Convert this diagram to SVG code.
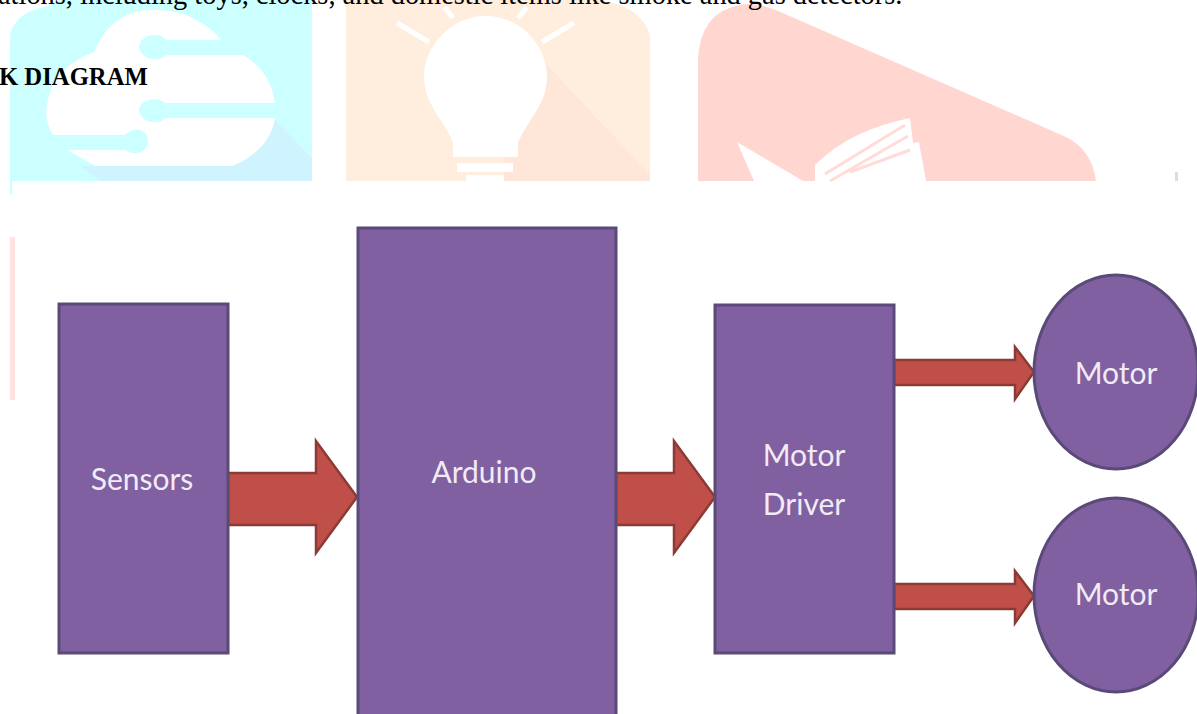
<svg xmlns="http://www.w3.org/2000/svg" width="1197" height="714" viewBox="0 0 1197 714">
<style>
.body{font-family:"Liberation Serif","Times New Roman",serif;fill:#000}
.box{fill:#8060a0;stroke:#5a4a78;stroke-width:3}
.arrow{fill:#bf4f48;stroke:#8c3a36;stroke-width:2.5}
.lbl{font-family:Lato,"Open Sans",sans-serif;font-size:30px;fill:#f1ebf6;text-anchor:middle}
.wh{fill:#fff}
</style>
<rect width="1197" height="714" fill="#fff"/>
<g id="watermark">
<path d="M10 181V35Q16 12 45 7L60 0H312V181Z" fill="#ccffff"/>
<path d="M275 120L312 158V181H100L80 166H232Q265 155 275 120Z" fill="#d0f4ff"/>
<path class="wh" d="M53 135Q44 120 47 105Q52 68 94 52Q100 38 107 30Q125 10 152 10Q180 9 196 20Q212 28 221 40H166C160 32 141 33 139 47C141 61 160 62 166 55H243Q270 70 275 103H165C160 97 141 97 139 110C141 124 160 125 165 118H275Q270 150 232 166H96L67 150H125C135 157 148 152 148 141C148 130 135 125 125 135Z"/>
<path d="M346 0H598Q640 5 650 35V181H346Z" fill="#ffeede"/>
<path d="M547 65L650 175V181H504V157L518 140Z" fill="#fee6d9"/>
<path class="wh" d="M486 16C520 16 547 45 547 77C547 105 527 120 518 143V157H453V143C445 120 424 105 424 77C424 45 452 16 486 16Z"/>
<rect class="wh" x="457" y="163" width="56" height="9"/>
<rect class="wh" x="466" y="175" width="38" height="6"/>
<path d="M397 23L429 42M574 23L542 42M444 7L453 18M527 7L518 18" stroke="#fff" stroke-width="5" fill="none"/>
<path d="M698 181V60Q700 12 740 5Q757 1 785 14L1066 137Q1092 150 1096 181Z" fill="#ffd6d0"/>
<path class="wh" d="M737 142L803 181H754Z"/>
<path class="wh" d="M815 181V165Q850 130 910 118L913 143L919 142L926 181Z"/>
<path d="M825 174L905 125M830 181L908 136M850 172L910 150" stroke="#ffdcd8" stroke-width="3" fill="none"/>
<rect x="1175" y="172" width="3" height="9" fill="#ddd"/>
<rect x="10" y="237" width="5" height="163" fill="#ffe2dd"/>
<rect x="10" y="181" width="2" height="14" fill="#ccffff"/>
</g>
<text class="body" x="-2" y="4" font-size="28.4">ations, including toys, clocks, and domestic items like smoke and gas detectors.</text>
<text class="body" x="-1" y="85" font-size="24.7" font-weight="bold">K DIAGRAM</text>
<g id="connectors">
<path class="arrow" d="M228 473H316V441L357 497L316 553V525H228Z"/>
<path class="arrow" d="M616 473H674V441L715 497L674 553V525H616Z"/>
<path class="arrow" d="M894 360H1015V347L1034 372L1015 399V385H894Z"/>
<path class="arrow" d="M894 584H1015V571L1034 596L1015 623V609H894Z"/>
</g>
<g id="sensors"><rect class="box" x="59" y="304" width="169" height="349"/><text class="lbl" x="142" y="490">Sensors</text></g>
<g id="arduino"><rect class="box" x="358" y="228" width="258" height="490"/><text class="lbl" x="484" y="483">Arduino</text></g>
<g id="motor-driver"><rect class="box" x="715" y="305" width="179" height="348"/><text class="lbl" x="804" y="466">Motor</text><text class="lbl" x="804" y="515">Driver</text></g>
<g id="motor-1"><ellipse class="box" cx="1116" cy="372" rx="82" ry="97"/><text class="lbl" x="1116" y="384">Motor</text></g>
<g id="motor-2"><ellipse class="box" cx="1116" cy="595" rx="82" ry="97"/><text class="lbl" x="1116" y="605">Motor</text></g>
</svg>
